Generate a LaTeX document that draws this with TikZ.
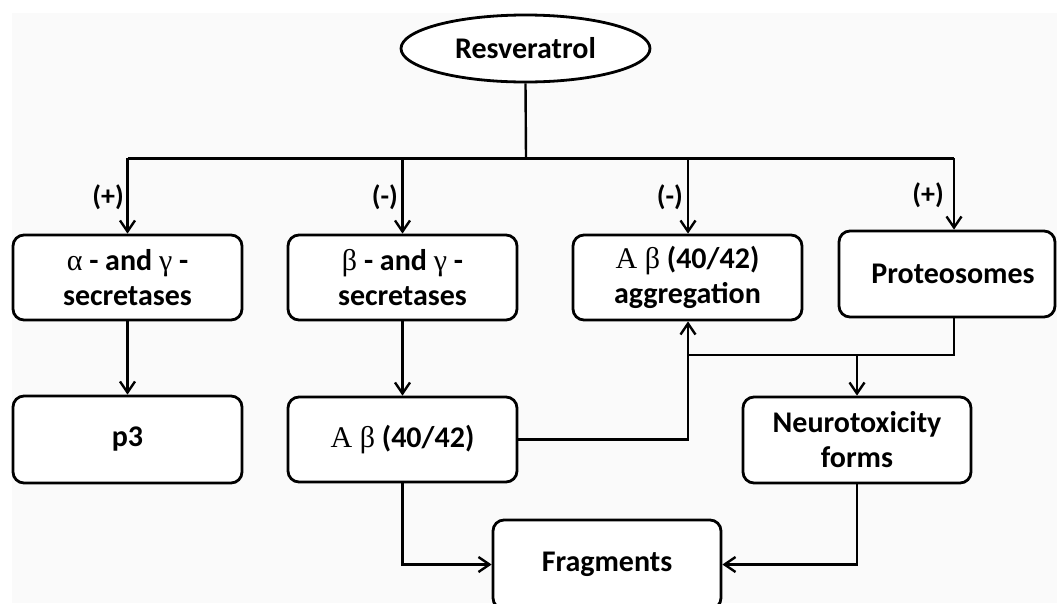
\documentclass[tikz,border=0pt]{standalone}
\usepackage{fontspec}
\setmainfont{Carlito}
\newfontfamily\grfont{Liberation Serif}
\newcommand\grk[1]{{\grfont\mdseries #1}}
\usetikzlibrary{arrows.meta,shapes.geometric,calc}
\tikzset{
  box/.style={draw, line width=2.8pt, rounded corners=11pt, fill=white, align=center,
    inner sep=0pt, font=\fontsize{30}{35}\selectfont\bfseries},
  conn/.style={line width=2.4pt},
  arr/.style={conn, -{Straight Barb[length=11pt,width=15pt]}},
  sign/.style={anchor=east, font=\fontsize{28}{32}\selectfont\bfseries, inner sep=0pt}
}
\begin{document}
\begin{tikzpicture}[x=1pt,y=-1pt]
\useasboundingbox (0,0) rectangle (1057,603);
\clip (0,0) rectangle (1057,603);
\fill[white] (0,0) rectangle (1057,603);
\fill[black!2] (12,13) rectangle (1057,603);

\node[draw, ellipse, line width=2.8pt, fill=white, minimum width=249pt, minimum height=67pt,
  inner sep=0pt, font=\fontsize{30}{35}\selectfont\bfseries] (res) at (525.5,48.5) {Resveratrol};

\node[box, minimum width=229pt, minimum height=85pt] (b1) at (127.5,277.5) {\grk{α} - and \grk{γ} -\\secretases};
\node[box, minimum width=229pt, minimum height=85pt] (b2) at (402.5,277.5) {\grk{β} - and \grk{γ} -\\secretases};
\node[box, minimum width=229pt, minimum height=85pt] (b3) at (687.5,277.5) {\grk{A β} (40/42)\\aggregation};
\node[box, minimum width=216pt, minimum height=86pt] (b4) at (947,274) {\hspace*{12pt}Proteosomes};

\node[box, minimum width=229pt, minimum height=87pt] (p3) at (127.5,439.5) {p3};
\node[box, minimum width=229pt, minimum height=85pt] (ab) at (402.5,439.5) {\grk{A β} (40/42)};
\node[box, minimum width=228pt, minimum height=86pt] (neu) at (857,440) {Neurotoxicity\\forms};
\node[box, minimum width=228pt, minimum height=89pt] (frag) at (607,564.5) {Fragments};

\coordinate (bar) at (526,158);
\coordinate (j1) at (127.5,158);
\coordinate (j2) at (402.5,158);
\coordinate (j3) at (688,158);
\coordinate (j4) at (954,158);
\coordinate (k) at (688,355);

\draw[conn] (res.south) -- (bar);
\draw[conn, line width=3pt] (j1) -- (j4);
\draw[arr] (j1) -- (b1.north);
\draw[arr] (j2) -- (b2.north);
\draw[arr] (j3) -- (j3 |- b3.north);
\draw[arr] (j4) -- (j4 |- b4.north);

\node[sign] (s1) at (124,197) {(+)};
\node[sign] (s2) at (398,197) {(-)};
\node[sign] (s3) at (683,197) {(-)};
\node[sign] (s4) at (944,195) {(+)};

\draw[arr] (b1.south) -- (p3.north);
\draw[arr] (b2.south) -- (ab.north);
\draw[arr] (ab.east) -| (k) -- (b3.south -| k);
\draw[conn] (j4 |- b4.south) |- (k);
\draw[arr] (neu.north |- k) -- (neu.north);
\draw[arr] (ab.south) |- (frag.west);
\draw[arr] (neu.south) |- (frag.east);
\end{tikzpicture}
\end{document}
